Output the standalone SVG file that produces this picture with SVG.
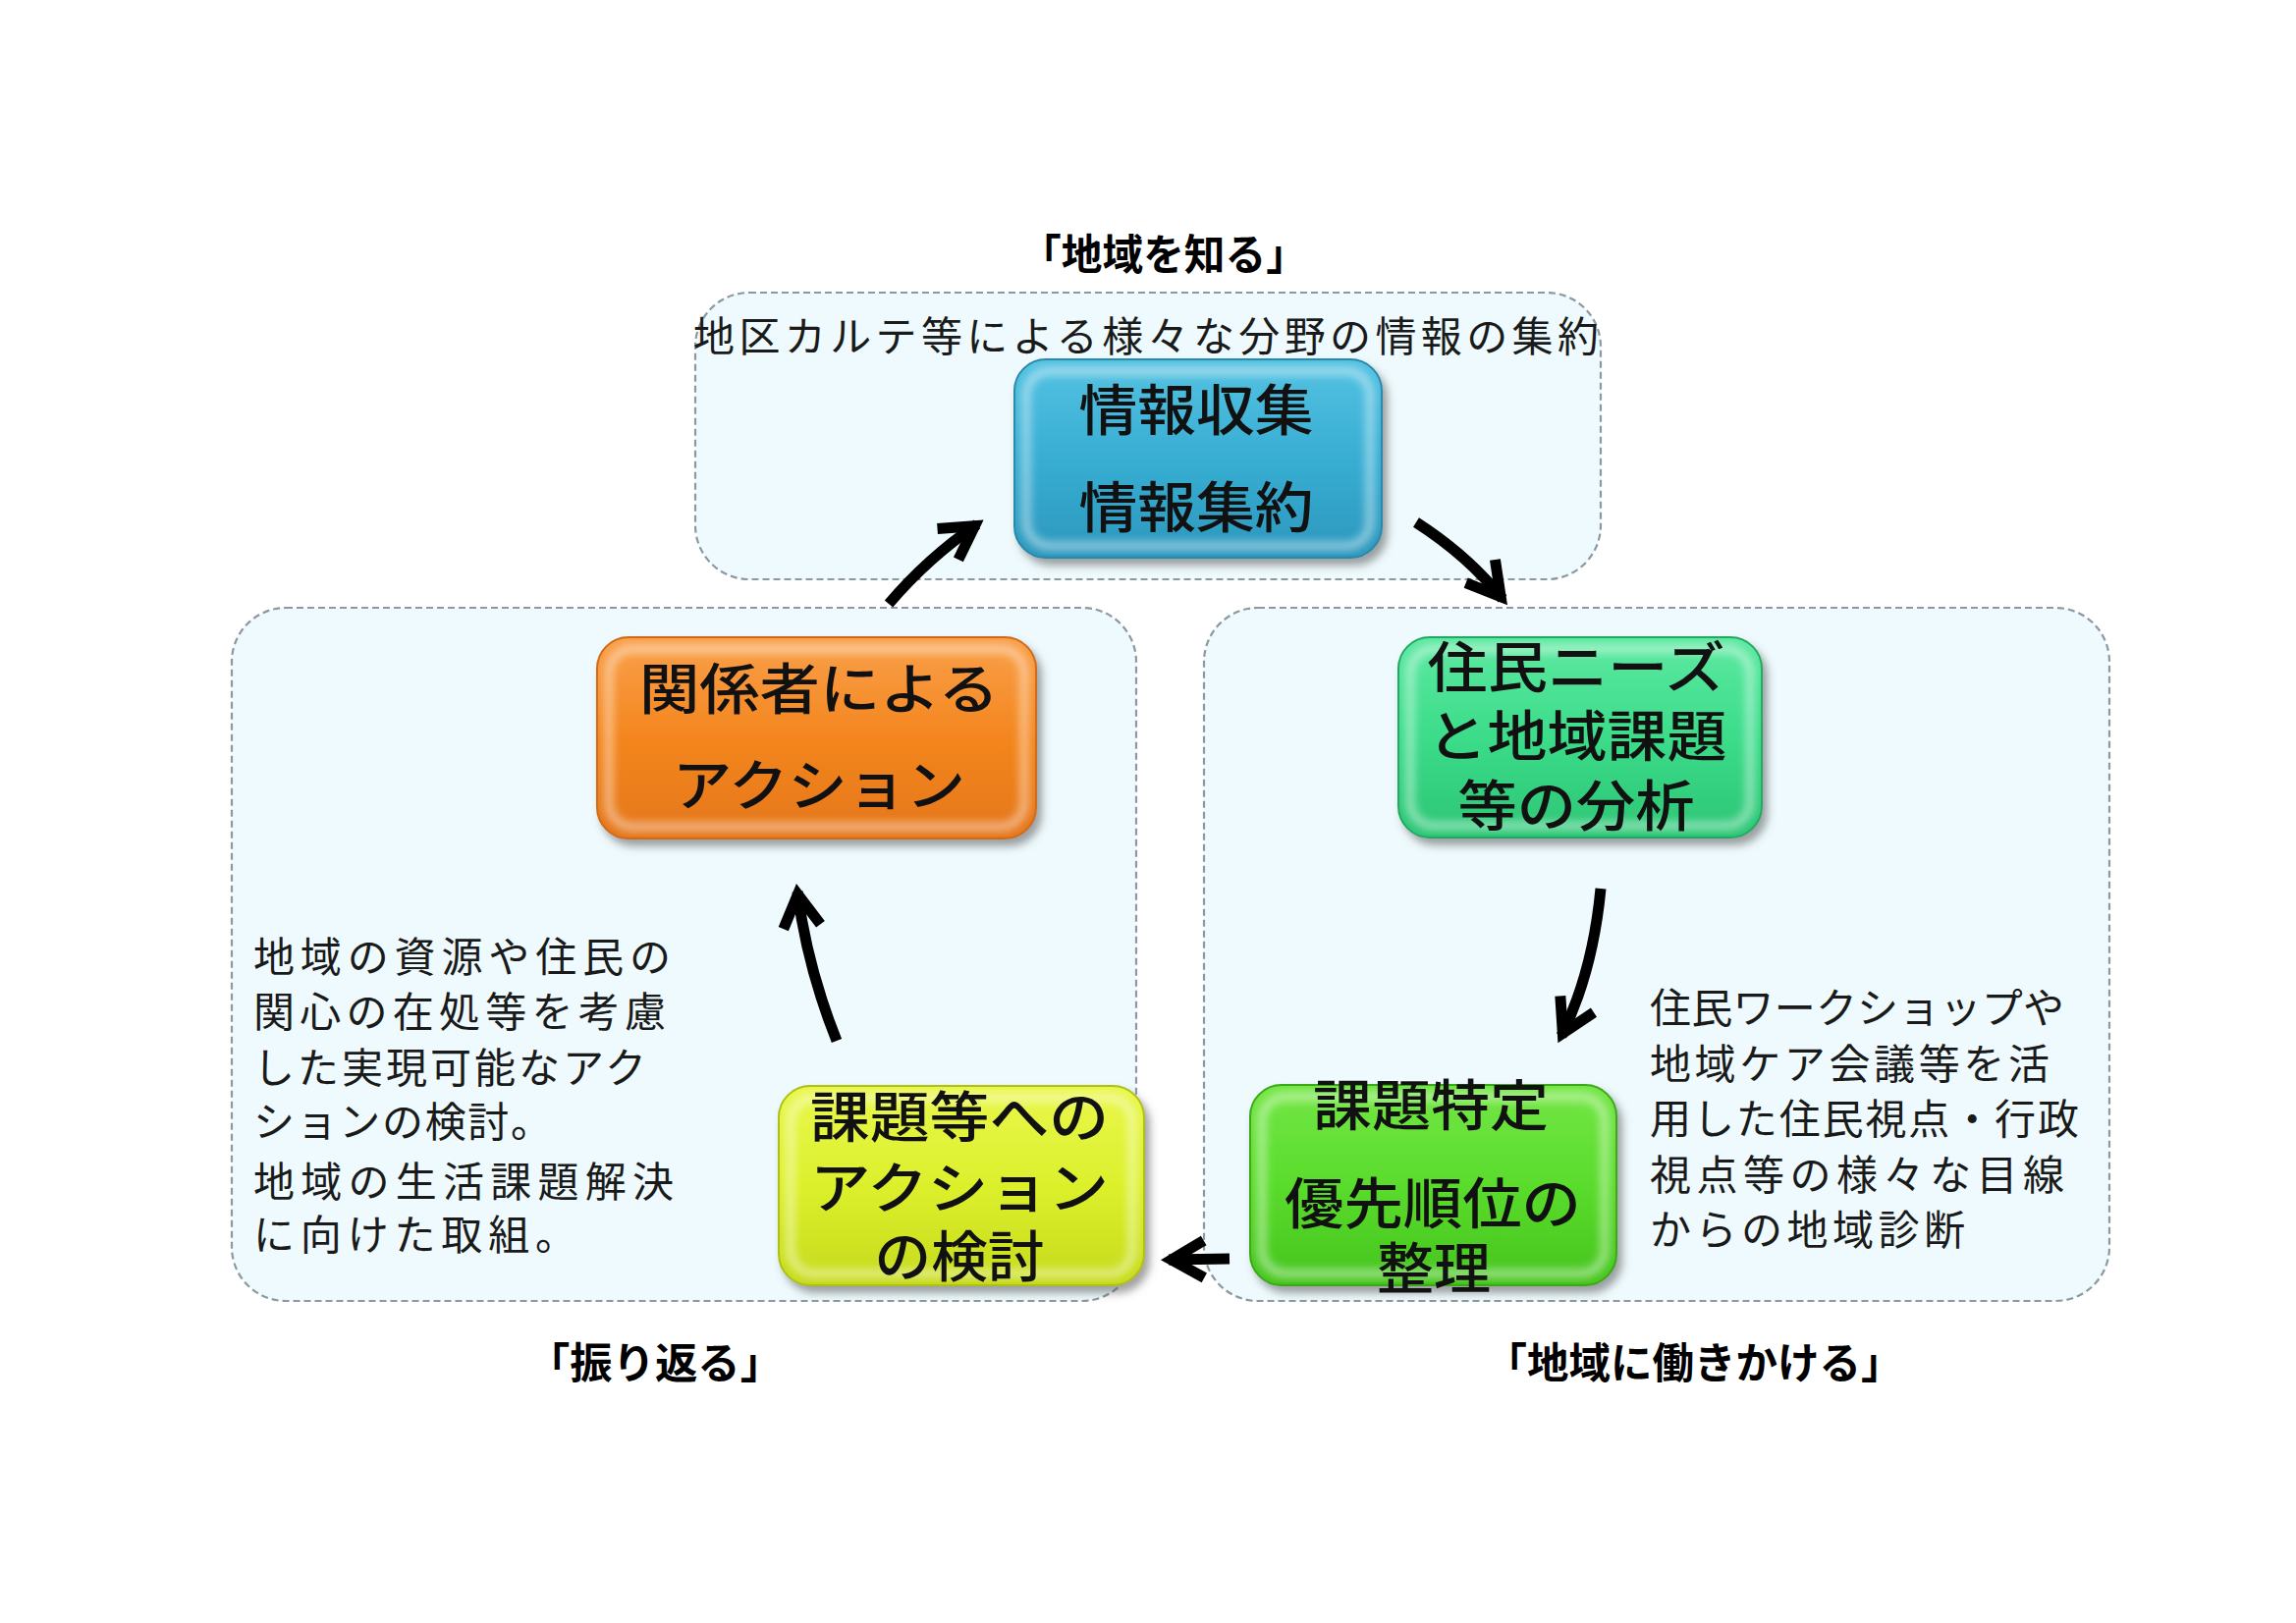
<svg xmlns="http://www.w3.org/2000/svg" width="2338" height="1653" viewBox="0 0 2338 1653">
<style>
.area{fill:#eefafd;stroke:#8a9aa0;stroke-width:2.2;stroke-dasharray:7 4}
.nt{font-family:"Noto Sans CJK JP","Noto Sans CJK SC",sans-serif;font-size:56px;font-weight:500;fill:#111;text-anchor:middle;dominant-baseline:central}
.note{font-family:"Noto Sans CJK JP","Noto Sans CJK SC",sans-serif;font-size:42px;fill:#1a1a1a;dominant-baseline:central}
.lab{font-family:"Noto Sans CJK JP","Noto Sans CJK SC",sans-serif;font-size:43px;font-weight:700;fill:#000;text-anchor:middle;dominant-baseline:central}
.conn{fill:none;stroke:#000;stroke-width:11;marker-end:url(#ah)}
.hi{fill:none;stroke:#fff;stroke-width:9;opacity:0.45}
</style>
<defs>
<filter id="shadow" x="-10%" y="-10%" width="125%" height="130%">
<feDropShadow dx="5" dy="7" stdDeviation="4" flood-color="#555" flood-opacity="0.55"/>
</filter>
<filter id="soft" x="-5%" y="-5%" width="110%" height="110%">
<feGaussianBlur stdDeviation="4"/>
</filter>
<linearGradient id="gBlue" x1="0" y1="0" x2="0" y2="1">
<stop offset="0" stop-color="#54c2e2"/><stop offset="0.5" stop-color="#38aed3"/><stop offset="1" stop-color="#2c97bd"/>
</linearGradient>
<linearGradient id="gOrange" x1="0" y1="0" x2="0" y2="1">
<stop offset="0" stop-color="#f9a04a"/><stop offset="0.5" stop-color="#f4861f"/><stop offset="1" stop-color="#e4761a"/>
</linearGradient>
<linearGradient id="gTeal" x1="0" y1="0" x2="0" y2="1">
<stop offset="0" stop-color="#5ee9a2"/><stop offset="0.5" stop-color="#3bdc8a"/><stop offset="1" stop-color="#2cc574"/>
</linearGradient>
<linearGradient id="gGreen" x1="0" y1="0" x2="0" y2="1">
<stop offset="0" stop-color="#74e646"/><stop offset="0.5" stop-color="#5adc2c"/><stop offset="1" stop-color="#46c41e"/>
</linearGradient>
<linearGradient id="gYellow" x1="0" y1="0" x2="0" y2="1">
<stop offset="0" stop-color="#e9f74c"/><stop offset="0.5" stop-color="#dcf02c"/><stop offset="1" stop-color="#c6da1c"/>
</linearGradient>
<marker id="ah" markerUnits="userSpaceOnUse" markerWidth="80" markerHeight="80" viewBox="-60 -40 80 80" refX="0" refY="0" orient="auto" overflow="visible">
<path d="M-36 -19 L-3 0 L-36 19" fill="none" stroke="#000" stroke-width="11" stroke-linejoin="miter" stroke-miterlimit="10"/>
</marker>
</defs>
<rect width="2338" height="1653" fill="#fff"/>

<g id="areas">
<rect id="area-top" class="area" x="708" y="298" width="922" height="292" rx="55"/>
<rect id="area-left" class="area" x="236" y="619" width="921" height="706" rx="55"/>
<rect id="area-right" class="area" x="1226" y="619" width="922" height="706" rx="55"/>
</g>

<g id="labels">
<text class="lab" x="1185" y="256" textLength="292" lengthAdjust="spacingAndGlyphs">「地域を知る」</text>
<text class="lab" x="667" y="1385" textLength="260" lengthAdjust="spacingAndGlyphs">「振り返る」</text>
<text class="lab" x="1725" y="1385" textLength="425" lengthAdjust="spacingAndGlyphs">「地域に働きかける」</text>
</g>

<g id="notes">
<text class="note" x="706" y="339" textLength="922" lengthAdjust="spacing">地区カルテ等による様々な分野の情報の集約</text>
<g id="note-left">
<text class="note" x="258" y="971" textLength="425" lengthAdjust="spacing">地域の資源や住民の</text>
<text class="note" x="258" y="1027" textLength="420" lengthAdjust="spacing">関心の在処等を考慮</text>
<text class="note" x="258" y="1084" textLength="400" lengthAdjust="spacing">した実現可能なアク</text>
<text class="note" x="258" y="1139" textLength="304" lengthAdjust="spacing">ションの検討。</text>
<text class="note" x="258" y="1200" textLength="428" lengthAdjust="spacing">地域の生活課題解決</text>
<text class="note" x="258" y="1254" textLength="329" lengthAdjust="spacing">に向けた取組。</text>
</g>
<g id="note-right">
<text class="note" x="1680" y="1023" textLength="422" lengthAdjust="spacing">住民ワークショップや</text>
<text class="note" x="1680" y="1080" textLength="407" lengthAdjust="spacing">地域ケア会議等を活</text>
<text class="note" x="1680" y="1136" textLength="437" lengthAdjust="spacing">用した住民視点・行政</text>
<text class="note" x="1680" y="1193" textLength="422" lengthAdjust="spacing">視点等の様々な目線</text>
<text class="note" x="1680" y="1249" textLength="321" lengthAdjust="spacing">からの地域診断</text>
</g>
</g>

<g id="node-collect">
<rect x="1033" y="366" width="374" height="202" rx="32" fill="url(#gBlue)" stroke="#2a88aa" stroke-width="2" filter="url(#shadow)"/>
<rect class="hi" x="1045" y="378" width="350" height="178" rx="24" filter="url(#soft)"/>
<text class="nt" x="1218" y="413" textLength="239" lengthAdjust="spacingAndGlyphs">情報収集</text>
<text class="nt" x="1218" y="512" textLength="239" lengthAdjust="spacingAndGlyphs">情報集約</text>
</g>

<g id="node-action">
<rect x="608" y="649" width="447" height="205" rx="32" fill="url(#gOrange)" stroke="#d06a14" stroke-width="2" filter="url(#shadow)"/>
<rect class="hi" x="620" y="661" width="423" height="181" rx="24" filter="url(#soft)"/>
<text class="nt" x="834" y="697" textLength="366" lengthAdjust="spacingAndGlyphs">関係者による</text>
<text class="nt" x="834" y="795" textLength="298" lengthAdjust="spacingAndGlyphs">アクション</text>
</g>

<g id="node-analysis">
<rect x="1424" y="649" width="370" height="204" rx="32" fill="url(#gTeal)" stroke="#24a862" stroke-width="2" filter="url(#shadow)"/>
<rect class="hi" x="1436" y="661" width="346" height="180" rx="24" filter="url(#soft)"/>
<text class="nt" x="1605" y="675" textLength="303" lengthAdjust="spacingAndGlyphs">住民ニーズ</text>
<text class="nt" x="1606" y="745" textLength="305" lengthAdjust="spacingAndGlyphs">と地域課題</text>
<text class="nt" x="1605" y="816" textLength="241" lengthAdjust="spacingAndGlyphs">等の分析</text>
</g>

<g id="node-priority">
<rect x="1273" y="1105" width="373" height="204" rx="32" fill="url(#gGreen)" stroke="#3aa818" stroke-width="2" filter="url(#shadow)"/>
<rect class="hi" x="1285" y="1117" width="349" height="180" rx="24" filter="url(#soft)"/>
<text class="nt" x="1457" y="1121" textLength="240" lengthAdjust="spacingAndGlyphs">課題特定</text>
<text class="nt" x="1459" y="1221" textLength="302" lengthAdjust="spacingAndGlyphs">優先順位の</text>
<text class="nt" x="1460" y="1287" textLength="116" lengthAdjust="spacingAndGlyphs">整理</text>
</g>

<g id="node-review">
<rect x="793" y="1106" width="372" height="203" rx="32" fill="url(#gYellow)" stroke="#aebf14" stroke-width="2" filter="url(#shadow)"/>
<rect class="hi" x="805" y="1118" width="348" height="179" rx="24" filter="url(#soft)"/>
<text class="nt" x="977" y="1133" textLength="304" lengthAdjust="spacingAndGlyphs">課題等への</text>
<text class="nt" x="977" y="1205" textLength="304" lengthAdjust="spacingAndGlyphs">アクション</text>
<text class="nt" x="977" y="1275" textLength="173" lengthAdjust="spacingAndGlyphs">の検討</text>
</g>

<g id="connectors">
<path class="conn" d="M905 615 Q945 568 995 534"/>
<path class="conn" d="M1442 532 Q1495 566 1530 610"/>
<path class="conn" d="M1630 905 Q1622 990 1590 1055"/>
<path class="conn" d="M1252 1282 L1190 1283"/>
<path class="conn" d="M852 1060 Q822 985 812 908"/>
</g>
</svg>
